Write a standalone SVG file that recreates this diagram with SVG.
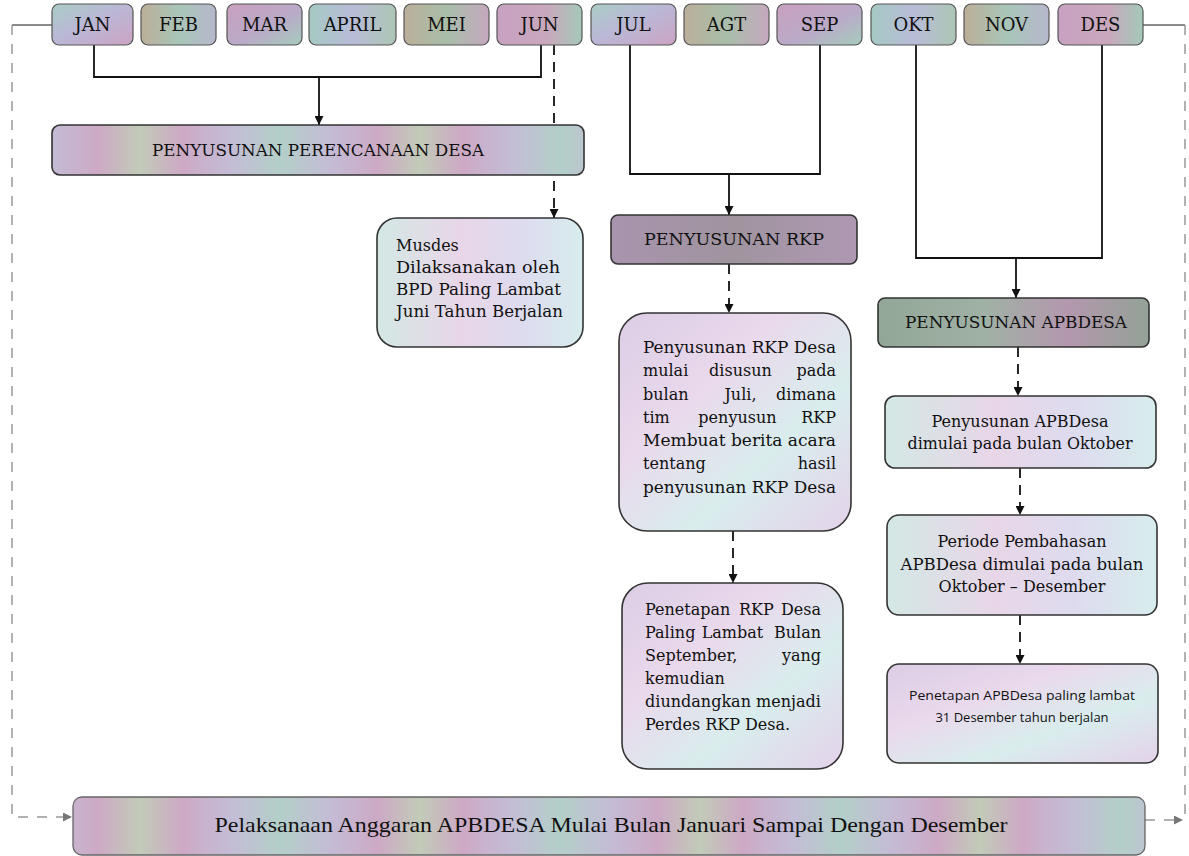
<svg xmlns="http://www.w3.org/2000/svg" width="1189" height="856" viewBox="0 0 1189 856">
<defs>
<linearGradient id="gA" x1="0" y1="0" x2="1" y2="1"><stop offset="0" stop-color="#aacdc6"/><stop offset="0.45" stop-color="#bab8d6"/><stop offset="1" stop-color="#cca3c4"/></linearGradient>
<linearGradient id="gB" x1="0" y1="0" x2="1" y2="0"><stop offset="0" stop-color="#bcae98"/><stop offset="0.5" stop-color="#a8c6b8"/><stop offset="1" stop-color="#b6b8cc"/></linearGradient>
<linearGradient id="gC" x1="0" y1="0" x2="1" y2="1"><stop offset="0" stop-color="#c9a0bf"/><stop offset="0.55" stop-color="#baaac8"/><stop offset="1" stop-color="#a5ccbc"/></linearGradient>
<linearGradient id="gD" x1="0" y1="0" x2="1" y2="0"><stop offset="0" stop-color="#a5c9c3"/><stop offset="0.5" stop-color="#b8bcd8"/><stop offset="1" stop-color="#adc6b4"/></linearGradient>
<linearGradient id="gE" x1="0" y1="0" x2="1" y2="0"><stop offset="0" stop-color="#bbaf9a"/><stop offset="0.5" stop-color="#a8bea9"/><stop offset="1" stop-color="#c5a8bf"/></linearGradient>
<linearGradient id="gF" x1="0" y1="0" x2="1" y2="0"><stop offset="0" stop-color="#c8a1c2"/><stop offset="0.6" stop-color="#c9a8bc"/><stop offset="1" stop-color="#a3c9b9"/></linearGradient>
<linearGradient id="gStripe" x1="0" y1="0" x2="140" y2="0" gradientUnits="userSpaceOnUse" spreadMethod="reflect"><stop offset="0" stop-color="#b3cfc8"/><stop offset="0.35" stop-color="#c4bcd6"/><stop offset="0.7" stop-color="#cda9c5"/><stop offset="1" stop-color="#c2cbb8"/></linearGradient>
<linearGradient id="gRKP" x1="0" y1="0" x2="1" y2="0"><stop offset="0" stop-color="#a894ae"/><stop offset="0.5" stop-color="#a0949f"/><stop offset="1" stop-color="#ae98b2"/></linearGradient>
<linearGradient id="gAPB" x1="0" y1="0" x2="1" y2="0"><stop offset="0" stop-color="#92a797"/><stop offset="0.4" stop-color="#a0b1a5"/><stop offset="0.7" stop-color="#b497ae"/><stop offset="1" stop-color="#93a296"/></linearGradient>
<linearGradient id="gLight" x1="0" y1="0" x2="1" y2="1"><stop offset="0" stop-color="#dccde6"/><stop offset="0.35" stop-color="#ead9ec"/><stop offset="0.65" stop-color="#d9eded"/><stop offset="1" stop-color="#e4d2ea"/></linearGradient>
<linearGradient id="gLight2" x1="0" y1="0" x2="1" y2="0"><stop offset="0" stop-color="#d3e8e4"/><stop offset="0.4" stop-color="#e8d6e8"/><stop offset="0.7" stop-color="#dedbef"/><stop offset="1" stop-color="#d7eded"/></linearGradient>
<marker id="ah" viewBox="0 0 10 10" refX="10" refY="5" markerWidth="9" markerHeight="9" markerUnits="userSpaceOnUse" orient="auto"><path d="M0,0 L10,5 L0,10 z" fill="#111"/></marker>
<marker id="ahg" viewBox="0 0 10 10" refX="10" refY="5" markerWidth="9" markerHeight="9" markerUnits="userSpaceOnUse" orient="auto"><path d="M0,0 L10,5 L0,10 z" fill="#777"/></marker>
</defs>
<style>
.m{stroke:#555;stroke-width:1.2}
.b{stroke:#333;stroke-width:1.6}
.t{font-family:"DejaVu Serif","Liberation Serif",serif;fill:#111}
.mt{font-size:18px;text-anchor:middle}
.h{font-size:17px;text-anchor:middle}
.bd{font-size:16px}
.c{text-anchor:middle}
.e{text-anchor:end}
.s{font-family:"Open Sans","Liberation Sans",sans-serif;font-size:13px;fill:#111;text-anchor:middle}
.sol{fill:none;stroke:#111;stroke-width:1.8}
.dsh{fill:none;stroke:#111;stroke-width:1.8;stroke-dasharray:10 7}
.gry{fill:none;stroke:#999;stroke-width:1.5;stroke-dasharray:10 9}
.grys{fill:none;stroke:#666;stroke-width:1.5}
</style>
<rect width="1189" height="856" fill="#ffffff"/>

<g id="connectors">
<polyline class="sol" points="94,45 94,77 541,77 541,45"/>
<line class="sol" x1="319" y1="77" x2="319" y2="125" marker-end="url(#ah)"/>
<line class="dsh" x1="554" y1="45" x2="554" y2="218" marker-end="url(#ah)"/>
<polyline class="sol" points="630,45 630,174 820,174 820,45"/>
<line class="sol" x1="729" y1="174" x2="729" y2="215" marker-end="url(#ah)"/>
<polyline class="sol" points="916,45 916,258 1102,258 1102,45"/>
<line class="sol" x1="1016" y1="258" x2="1016" y2="298" marker-end="url(#ah)"/>
<line class="dsh" x1="729" y1="264" x2="729" y2="313" marker-end="url(#ah)"/>
<line class="dsh" x1="733" y1="531" x2="733" y2="583" marker-end="url(#ah)"/>
<line class="dsh" x1="1018" y1="347" x2="1018" y2="396" marker-end="url(#ah)"/>
<line class="dsh" x1="1020" y1="468" x2="1020" y2="515" marker-end="url(#ah)"/>
<line class="dsh" x1="1020" y1="615" x2="1020" y2="664" marker-end="url(#ah)"/>
<polyline class="grys" points="52,25 12,25"/>
<polyline class="gry" points="12,25 12,817 72,817" marker-end="url(#ahg)"/>
<polyline class="grys" points="1143,25 1185,25"/>
<polyline class="gry" points="1185,25 1185,820"/>
<line class="gry" x1="1145" y1="820" x2="1183" y2="820" marker-end="url(#ahg)"/>
</g>

<g id="jan"><rect class="m" x="52" y="4" width="81" height="41" rx="7" fill="url(#gA)"/><text class="t mt" x="92.5" y="31">JAN</text></g>
<g id="feb"><rect class="m" x="141" y="4" width="75" height="41" rx="7" fill="url(#gB)"/><text class="t mt" x="178.5" y="31">FEB</text></g>
<g id="mar"><rect class="m" x="227" y="4" width="75" height="41" rx="7" fill="url(#gC)"/><text class="t mt" x="264.5" y="31">MAR</text></g>
<g id="april"><rect class="m" x="309" y="4" width="87" height="41" rx="7" fill="url(#gD)"/><text class="t mt" x="352.5" y="31">APRIL</text></g>
<g id="mei"><rect class="m" x="404" y="4" width="85" height="41" rx="7" fill="url(#gE)"/><text class="t mt" x="446.5" y="31">MEI</text></g>
<g id="jun"><rect class="m" x="497" y="4" width="85" height="41" rx="7" fill="url(#gF)"/><text class="t mt" x="539.5" y="31">JUN</text></g>
<g id="jul"><rect class="m" x="591" y="4" width="85" height="41" rx="7" fill="url(#gA)"/><text class="t mt" x="633.5" y="31">JUL</text></g>
<g id="agt"><rect class="m" x="684" y="4" width="85" height="41" rx="7" fill="url(#gE)"/><text class="t mt" x="726.5" y="31">AGT</text></g>
<g id="sep"><rect class="m" x="777" y="4" width="85" height="41" rx="7" fill="url(#gC)"/><text class="t mt" x="819.5" y="31">SEP</text></g>
<g id="okt"><rect class="m" x="871" y="4" width="85" height="41" rx="7" fill="url(#gD)"/><text class="t mt" x="913.5" y="31">OKT</text></g>
<g id="nov"><rect class="m" x="964" y="4" width="85" height="41" rx="7" fill="url(#gB)"/><text class="t mt" x="1006.5" y="31">NOV</text></g>
<g id="des"><rect class="m" x="1058" y="4" width="85" height="41" rx="7" fill="url(#gF)"/><text class="t mt" x="1100.5" y="31">DES</text></g>

<g id="perencanaan"><rect class="b" x="52" y="125" width="532" height="50" rx="8" fill="url(#gStripe)"/><text class="t h" x="318" y="156" textLength="332" lengthAdjust="spacingAndGlyphs">PENYUSUNAN PERENCANAAN DESA</text></g>

<g id="musdes"><rect class="b" x="377" y="218" width="206" height="129" rx="20" fill="url(#gLight2)"/>
<text class="t bd" x="396" y="251">Musdes</text>
<text class="t bd" x="396" y="273" textLength="164" lengthAdjust="spacingAndGlyphs">Dilaksanakan oleh</text>
<text class="t bd" x="396" y="295" textLength="165" lengthAdjust="spacingAndGlyphs">BPD Paling Lambat</text>
<text class="t bd" x="396" y="317" textLength="167" lengthAdjust="spacingAndGlyphs">Juni Tahun Berjalan</text></g>

<g id="rkp"><rect class="b" x="611" y="215" width="246" height="49" rx="7" fill="url(#gRKP)"/><text class="t h" x="734" y="245" textLength="180" lengthAdjust="spacingAndGlyphs">PENYUSUNAN RKP</text></g>

<g id="rkp-desa"><rect class="b" x="619" y="313" width="232" height="218" rx="28" fill="url(#gLight)"/>
<text class="t bd" x="643" y="353" textLength="193" lengthAdjust="spacingAndGlyphs">Penyusunan RKP Desa</text>
<text class="t bd" y="376"><tspan x="643">mulai</tspan> <tspan x="743" class="c">disusun</tspan> <tspan x="836" class="e">pada</tspan></text>
<text class="t bd" y="400"><tspan x="643">bulan</tspan> <tspan x="743" class="c">Juli,</tspan> <tspan x="836" class="e">dimana</tspan></text>
<text class="t bd" y="423"><tspan x="643">tim</tspan> <tspan x="740" class="c">penyusun</tspan> <tspan x="836" class="e">RKP</tspan></text>
<text class="t bd" x="643" y="446" textLength="193" lengthAdjust="spacingAndGlyphs">Membuat berita acara</text>
<text class="t bd" y="469"><tspan x="643">tentang</tspan> <tspan x="836" class="e">hasil</tspan></text>
<text class="t bd" x="643" y="493" textLength="193" lengthAdjust="spacingAndGlyphs">penyusunan RKP Desa</text></g>

<g id="penetapan-rkp"><rect class="b" x="622" y="583" width="221" height="186" rx="26" fill="url(#gLight)"/>
<text class="t bd" y="615"><tspan x="645">Penetapan</tspan> <tspan x="759" class="c">RKP</tspan> <tspan x="821" class="e">Desa</tspan></text>
<text class="t bd" y="638"><tspan x="645">Paling</tspan> <tspan x="735" class="c">Lambat</tspan> <tspan x="821" class="e">Bulan</tspan></text>
<text class="t bd" y="661"><tspan x="645">September,</tspan> <tspan x="821" class="e">yang</tspan></text>
<text class="t bd" x="645" y="684">kemudian</text>
<text class="t bd" x="645" y="707" textLength="176" lengthAdjust="spacingAndGlyphs">diundangkan menjadi</text>
<text class="t bd" x="645" y="730">Perdes RKP Desa.</text></g>

<g id="apbdesa"><rect class="b" x="878" y="298" width="271" height="49" rx="7" fill="url(#gAPB)"/><text class="t h" x="1016" y="328" textLength="222" lengthAdjust="spacingAndGlyphs">PENYUSUNAN APBDESA</text></g>

<g id="apb-mulai"><rect class="b" x="885" y="396" width="271" height="72" rx="10" fill="url(#gLight2)"/>
<text class="t bd c" x="1020" y="427">Penyusunan APBDesa</text>
<text class="t bd c" x="1020" y="449" textLength="225" lengthAdjust="spacingAndGlyphs">dimulai pada bulan Oktober</text></g>

<g id="apb-bahas"><rect class="b" x="887" y="515" width="270" height="100" rx="12" fill="url(#gLight2)"/>
<text class="t bd c" x="1022" y="547">Periode Pembahasan</text>
<text class="t bd c" x="1022" y="570" textLength="243" lengthAdjust="spacingAndGlyphs">APBDesa dimulai pada bulan</text>
<text class="t bd c" x="1022" y="592">Oktober – Desember</text></g>

<g id="apb-tetap"><rect class="b" x="887" y="664" width="271" height="99" rx="12" fill="url(#gLight)"/>
<text class="s" x="1022" y="700" textLength="226" lengthAdjust="spacingAndGlyphs">Penetapan APBDesa paling lambat</text>
<text class="s" x="1022" y="722">31 Desember tahun berjalan</text></g>

<g id="pelaksanaan"><rect x="73" y="797" width="1072" height="58" rx="9" fill="url(#gStripe)" stroke="#666" stroke-width="1.3"/>
<text x="611" y="832" text-anchor="middle" style="font-family:'Liberation Serif',serif;font-size:21px;fill:#111" textLength="793" lengthAdjust="spacingAndGlyphs">Pelaksanaan Anggaran APBDESA Mulai Bulan Januari Sampai Dengan Desember</text></g>
</svg>
